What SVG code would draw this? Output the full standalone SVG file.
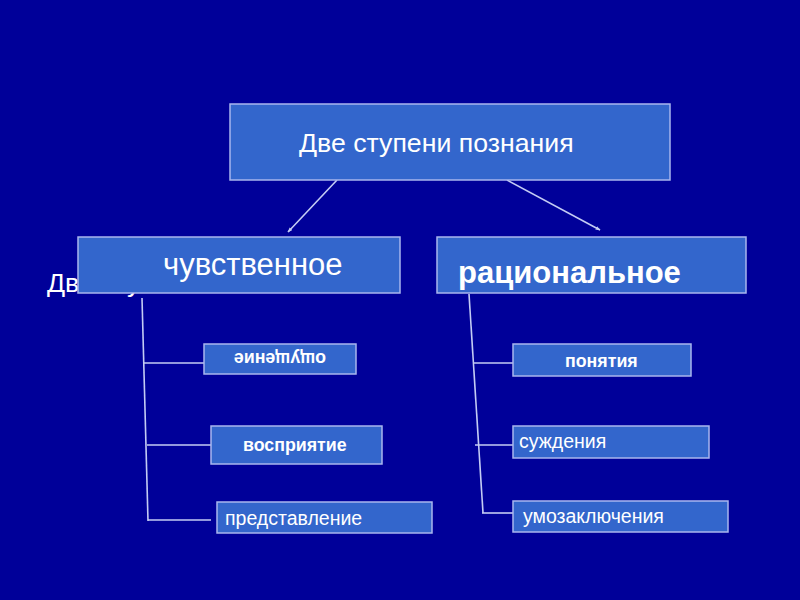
<svg xmlns="http://www.w3.org/2000/svg" width="800" height="600" viewBox="0 0 800 600">
<defs>
<style>
.box{fill:#3366cc;stroke:#a9b6ee;stroke-width:1.5}
.t{font-family:"Liberation Sans",Arial,sans-serif;fill:#ffffff}
.ln{stroke:#c4ccf4;stroke-width:1.6;fill:none}
</style>
<marker id="ah" viewBox="0 0 8 6" refX="7" refY="3" markerWidth="5" markerHeight="4" orient="auto" markerUnits="userSpaceOnUse">
<path d="M0,0 L8,3 L0,6 Z" fill="#c4ccf4"/>
</marker>
</defs>
<rect width="800" height="600" fill="#000099"/>
<text class="t" x="47" y="292" font-size="26.7">Две ступени познания</text>
<g id="connectors">
<line class="ln" x1="337" y1="180" x2="288" y2="232" marker-end="url(#ah)"/>
<line class="ln" x1="507" y1="180" x2="600" y2="230" marker-end="url(#ah)"/>
<line class="ln" x1="142" y1="298" x2="148" y2="521"/>
<line class="ln" x1="143" y1="363" x2="204" y2="363"/>
<line class="ln" x1="147" y1="445" x2="211" y2="445"/>
<line class="ln" x1="148" y1="520" x2="211" y2="520"/>
<line class="ln" x1="469" y1="294" x2="483" y2="513"/>
<line class="ln" x1="473" y1="363" x2="513" y2="363"/>
<line class="ln" x1="475" y1="445" x2="513" y2="445"/>
<line class="ln" x1="482" y1="513" x2="513" y2="513"/>
</g>
<g id="root">
<rect class="box" x="230" y="104" width="440" height="76"/>
<text class="t" x="299" y="152" font-size="26.7">Две ступени познания</text>
</g>
<g id="sensory">
<rect class="box" x="78" y="237" width="322" height="56"/>
<text class="t" x="163" y="275" font-size="31">чувственное</text>
</g>
<g id="rational">
<rect class="box" x="437" y="237" width="309" height="56"/>
<text class="t" x="458" y="283" font-size="31" font-weight="bold">рациональное</text>
</g>
<g id="sensation">
<rect class="box" x="204" y="344" width="152" height="30"/>
<text class="t" x="280" y="359" font-size="17.8" font-weight="bold" text-anchor="middle" dominant-baseline="central" transform="rotate(180 280 359)">ощущение</text>
</g>
<g id="perception">
<rect class="box" x="211" y="426" width="171" height="38"/>
<text class="t" x="243" y="451" font-size="17.8" font-weight="bold">восприятие</text>
</g>
<g id="representation">
<rect class="box" x="217" y="502" width="215" height="31"/>
<text class="t" x="225" y="525" font-size="19.5">представление</text>
</g>
<g id="concepts">
<rect class="box" x="513" y="344" width="178" height="32"/>
<text class="t" x="565" y="367" font-size="17.8" font-weight="bold">понятия</text>
</g>
<g id="judgments">
<rect class="box" x="513" y="426" width="196" height="32"/>
<text class="t" x="519" y="448" font-size="19.5">суждения</text>
</g>
<g id="inferences">
<rect class="box" x="513" y="501" width="215" height="31"/>
<text class="t" x="523" y="523" font-size="19.5">умозаключения</text>
</g>
</svg>
